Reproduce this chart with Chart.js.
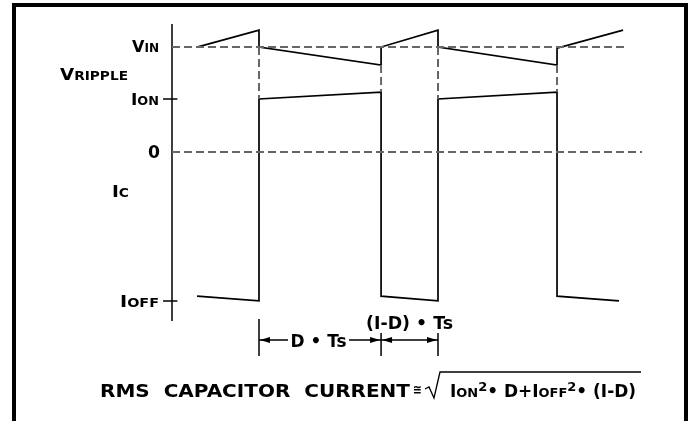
<!DOCTYPE html>
<html>
<head>
<meta charset="utf-8">
<script src="https://cdn.jsdelivr.net/npm/chart.js@4.4.1/dist/chart.umd.min.js"></script>
<style>
  html, body { margin: 0; padding: 0; background: #fff; }
  #wrap { width: 692px; height: 421px; }
</style>
</head>
<body>
<div id="wrap"><canvas id="diagram" width="692" height="421"></canvas></div>
<script>
// time in switching periods (Ts), levels in units of ION
const vinLevel = 1.98;
const ionLevel = 1.0;
const ioffLevel = -2.81;

// capacitor voltage (ripple around VIN)
const voltageT = [0.14, 0.486, 0.486, 1.168, 1.168, 1.486, 1.486, 2.151, 2.151, 2.52];
const voltageV = [1.98, 2.30, 1.98, 1.64, 1.98, 2.30, 1.98, 1.64, 1.96, 2.30];

// capacitor current Ic
const currentT = [0.14, 0.486, 0.486, 1.168, 1.168, 1.486, 1.486, 2.151, 2.151, 2.497];
const currentI = [-2.72, -2.81, 1.0, 1.13, -2.72, -2.81, 1.0, 1.13, -2.72, -2.81];

// dashed links between the two traces at each switching edge
const linkT = [0.486, 1.168, 1.486, 2.151];
const linkTop = [1.98, 1.64, 1.98, 1.64];
const linkBottom = [1.0, 1.13, 1.0, 1.13];

// D*Ts and (1-D)*Ts markers
const dimT = [0.486, 1.168, 1.486];
const dimTop = [-3.15, -3.415, -3.415];
const dimBottom = -3.85;
const dimLevel = -3.547;

const axisTop = 2.415, axisBottom = -3.19;
const vinEnd = 2.542, zeroEnd = 2.626;

function pts(xs, ys) { return xs.map((x, i) => ({ x: x, y: ys[i] })); }
function segs(list) {
  const out = [];
  list.forEach((s, i) => {
    if (i > 0) out.push({ x: s[0], y: null });
    out.push({ x: s[0], y: s[1] }, { x: s[2], y: s[3] });
  });
  return out;
}

const solid = { borderColor: '#000', borderWidth: 1.7, showLine: true, pointRadius: 0, spanGaps: false, tension: 0 };
const dashed = { borderColor: '#666', borderWidth: 2, borderDash: [8, 4], showLine: true, pointRadius: 0, spanGaps: false, tension: 0 };

const datasets = [
  Object.assign({ data: segs([[0, vinLevel, vinEnd, vinLevel], [0, 0, zeroEnd, 0]]) }, dashed),
  Object.assign({ data: segs(linkT.map((t, i) => [t, linkTop[i], t, linkBottom[i]])) }, dashed),
  Object.assign({ data: pts(voltageT, voltageV) }, solid),
  Object.assign({ data: pts(currentT, currentI) }, solid),
  Object.assign({ data: segs([[0, axisTop, 0, axisBottom], [-0.05, ionLevel, 0.03, ionLevel], [-0.05, ioffLevel, 0.03, ioffLevel]]) }, solid, { borderWidth: 1.5 }),
  Object.assign({ data: segs(dimT.map((t, i) => [t, dimTop[i], t, dimBottom])) }, solid, { borderWidth: 1.5 }),
  Object.assign({ data: segs([[dimT[0], dimLevel, 0.648, dimLevel], [0.989, dimLevel, dimT[1], dimLevel], [dimT[1], dimLevel, dimT[2], dimLevel]]) }, solid, { borderWidth: 1.3 })
];

const FONT = '"DejaVu Sans", "Liberation Sans", Arial, sans-serif';

// runs: [text, size, raise]; stretched horizontally to the given width
function drawRich(ctx, runs, x, base, width, align) {
  let nat = 0;
  runs.forEach(r => { ctx.font = 'bold ' + r[1] + 'px ' + FONT; nat += ctx.measureText(r[0]).width; });
  const sx = width ? width / nat : 1;
  const w = nat * sx;
  const left = align === 'right' ? x - w : (align === 'center' ? x - w / 2 : x);
  ctx.save();
  ctx.translate(left, base);
  ctx.scale(sx, 1);
  ctx.fillStyle = '#000';
  ctx.textBaseline = 'alphabetic';
  ctx.textAlign = 'left';
  let cx = 0;
  runs.forEach(r => {
    ctx.font = 'bold ' + r[1] + 'px ' + FONT;
    ctx.fillText(r[0], cx, -(r[2] || 0));
    cx += ctx.measureText(r[0]).width;
  });
  ctx.restore();
}

function arrowHead(ctx, x, y, dir) {
  ctx.beginPath();
  ctx.moveTo(x, y);
  ctx.lineTo(x - dir * 10, y - 3);
  ctx.lineTo(x - dir * 10, y + 3);
  ctx.closePath();
  ctx.fill();
}

const notes = {
  id: 'notes',
  afterDraw(chart) {
    const ctx = chart.ctx;
    const xs = chart.scales.x, ys = chart.scales.y;
    const ax = xs.getPixelForValue(0);
    ctx.save();
    ctx.fillStyle = '#000';

    // frame
    ctx.fillRect(12, 3, 676, 4);
    ctx.fillRect(12, 3, 4, 418);
    ctx.fillRect(684, 3, 4, 418);

    // level labels
    const L = 16, S = 12;
    drawRich(ctx, [['V', L], ['IN', S]], ax - 13, ys.getPixelForValue(vinLevel) + 5, 27, 'right');
    drawRich(ctx, [['V', L], ['RIPPLE', S]], 60, ys.getPixelForValue(vinLevel) + 33, 68, 'left');
    drawRich(ctx, [['I', L], ['ON', S]], ax - 13, ys.getPixelForValue(ionLevel) + 6, 28, 'right');
    drawRich(ctx, [['0', 17]], ax - 12, ys.getPixelForValue(0) + 6, 12, 'right');
    drawRich(ctx, [['I', L], ['C', S]], 112, ys.getPixelForValue(0) + 45, 17, 'left');
    drawRich(ctx, [['I', L], ['OFF', S]], ax - 13, ys.getPixelForValue(ioffLevel) + 6, 39, 'right');

    // arrows for D*Ts and (1-D)*Ts
    const ay = ys.getPixelForValue(dimLevel);
    arrowHead(ctx, xs.getPixelForValue(dimT[0]) + 1, ay, -1);
    arrowHead(ctx, xs.getPixelForValue(dimT[1]) - 1, ay, 1);
    arrowHead(ctx, xs.getPixelForValue(dimT[1]) + 1, ay, -1);
    arrowHead(ctx, xs.getPixelForValue(dimT[2]) - 1, ay, 1);
    drawRich(ctx, [['D \u2022 Ts', 18]], (xs.getPixelForValue(0.648) + xs.getPixelForValue(0.989)) / 2, ay + 7, 56, 'center');
    drawRich(ctx, [['(I-D) \u2022 Ts', 18]], (xs.getPixelForValue(dimT[1]) + xs.getPixelForValue(dimT[2])) / 2, ay - 11, 87, 'center');

    // RMS formula
    drawRich(ctx, [['RMS  CAPACITOR  CURRENT', 17]], 100, 397, 310, 'left');
    drawRich(ctx, [['\u2245', 13]], 413, 394, 9, 'left');
    ctx.lineWidth = 1.3;
    ctx.strokeStyle = '#000';
    ctx.beginPath();
    ctx.moveTo(425, 389);
    ctx.lineTo(429, 387);
    ctx.lineTo(434, 398);
    ctx.lineTo(440, 372);
    ctx.lineTo(641, 372);
    ctx.stroke();
    drawRich(ctx, [['I', 17], ['ON', 13], ['2', 13, 6], ['\u2022 D+', 17], ['I', 17], ['OFF', 13], ['2', 13, 6], ['\u2022 (I-D)', 17]], 450, 397, 186, 'left');
    ctx.restore();
  }
};

new Chart(document.getElementById('diagram'), {
  type: 'scatter',
  data: { datasets: datasets },
  options: {
    responsive: false,
    animation: false,
    layout: { padding: 0 },
    plugins: { legend: { display: false }, tooltip: { enabled: false } },
    scales: {
      x: { type: 'linear', display: false, min: -172 / 179, max: 520 / 179 },
      y: { type: 'linear', display: false, min: -269 / 53, max: 152 / 53 }
    }
  },
  plugins: [notes]
});
</script>
</body>
</html>
